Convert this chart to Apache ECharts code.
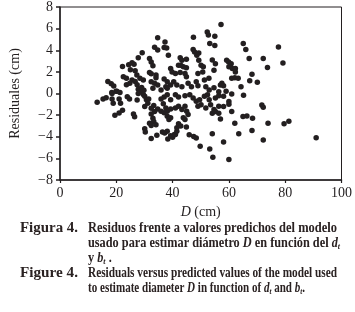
<!DOCTYPE html>
<html><head><meta charset="utf-8">
<script src="https://cdn.jsdelivr.net/npm/echarts@6/dist/echarts.min.js"></script>
<style>html,body{margin:0;padding:0;background:#fff}#c{width:355px;height:312px}</style>
</head><body><div id="c"></div>
<script>
// ---- data ----
const xTicks = [0, 20, 40, 60, 80, 100];
const yTicks = [-8, -6, -4, -2, 0, 2, 4, 6, 8];
const xAxisTitle = 'D (cm)';
const yAxisTitle = 'Residuales (cm)';
const predictedD = [
 13.2,15.3,16.4,17.0,18.2,19.1,18.5,19.9,18.5,21.0,18.9,21.5,19.5,21.0,22.2,22.2,22.5,23.6,20.2,21.3,18.4,
 24.4,25.6,26.3,27.8,29.2,25.0,26.7,27.3,25.6,26.7,28.4,29.6,23.6,24.8,27.4,27.8,29.0,29.8,28.4,29.6,27.4,23.9,24.7,27.8,30.1,30.7,31.5,26.1,26.5,
 30.1,31.2,33.3,34.7,32.4,33.6,32.4,33.0,33.3,34.1,32.4,31.8,35.9,37.0,38.1,38.7,39.3,36.7,37.6,38.1,39.3,35.9,37.0,38.1,39.3,
 30.1,30.3,32.4,34.4,36.4,37.2,38.1,38.3,39.3,40.0,40.6,41.0,41.5,41.5,42.1,42.9,44.9,
 34.7,37.3,33.6,34.7,37.0,37.9,38.5,31.8,32.4,33.0,31.8,32.4,34.1,34.1,39.3,39.8,37.0,38.1,39.3,32.4,33.6,34.7,33.0,35.9,37.6,38.1,
 42.7,43.3,44.9,42.1,42.9,43.8,44.9,47.4,47.3,47.8,49.3,48.6,49.3,50.1,50.9,
 41.0,42.7,44.4,44.9,49.0,50.7,52.9,51.3,40.4,41.5,43.3,45.5,46.7,48.4,49.0,51.8,53.0,54.7,56.4,57.0,
 41.0,42.1,44.4,46.1,47.3,48.4,49.6,51.3,52.4,53.0,55.2,56.4,41.0,42.1,43.3,44.4,45.0,45.5,49.0,50.1,51.8,53.5,54.7,56.4,43.8,44.4,57.0,54.1,55.2,56.4,
 45.9,47.5,48.4,49.8,53.2,54.1,58.1,54.3,60.0,63.5,68.2,72.2,73.9,79.6,81.3,91.0,61.0,62.1,65.0,66.4,68.4,
 57.2,52.3,52.7,55.0,53.2,55.0,54.1,55.2,54.7,59.2,59.9,60.8,60.0,61.2,62.3,62.3,
 65.1,66.0,77.6,67.2,72.2,79.2,73.7,68.2,61.0,62.1,63.3,67.4,70.1,57.5,58.1,64.3,59.0,61.0,58.1,65.2,60.0,60.0,58.1,71.7,72.2
];
const residuals = [
 -0.8,-0.5,-0.4,1.1,0.9,0.7,0.0,0.2,-0.5,-0.5,-0.9,-0.9,-2.0,-1.8,-1.55,2.5,1.55,1.4,0.2,0.1,0.1,
 2.65,2.85,2.7,3.3,3.77,2.2,2.1,1.7,1.25,1.1,1.4,1.25,0.8,0.95,0.8,0.4,0.55,0.3,0.17,-0.1,-0.6,-0.3,-0.5,0.0,-0.25,-0.57,-0.5,-1.9,-2.15,
 -1.2,-0.9,-1.12,-1.43,-1.36,-1.67,-1.9,-2.3,-2.6,-2.9,-2.96,-2.74,-1.64,-1.79,-2.1,-2.41,-2.25,-0.94,-1.33,-1.64,-1.43,-0.5,-0.32,-0.11,-0.57,
 -3.26,-3.55,-4.16,-3.85,-3.55,-3.65,-3.5,-4.2,-3.9,-4.05,-3.8,-3.8,-3.5,-3.17,-2.8,-3.0,-3.1,
 5.15,4.76,4.28,4.03,4.25,4.21,3.54,3.24,2.92,2.56,1.95,1.82,1.7,1.45,2.32,2.0,1.33,1.09,0.78,1.09,0.94,0.78,0.48,0.32,0.63,0.48,
 3.3,3.08,3.17,2.62,2.62,2.47,2.37,5.2,4.06,3.84,3.75,3.54,3.08,2.62,2.47,
 1.86,1.95,1.86,1.55,1.86,2.0,1.4,1.24,1.09,0.78,0.63,0.94,0.63,1.09,0.72,0.63,0.32,0.53,0.17,0.78,
 -0.11,-0.32,-0.2,-0.11,-0.41,-0.72,-0.57,-0.26,-0.11,-0.57,-0.41,-0.2,-1.33,-1.18,-1.49,-1.18,-1.64,-1.95,-1.18,-1.03,-1.33,-1.03,-1.49,-1.18,-2.25,-2.41,-2.35,-1.82,-1.67,-1.82,
 -3.82,-3.97,-4.12,-4.89,-5.13,-3.72,-4.49,-5.9,-6.1,-3.72,-3.42,-4.3,-2.74,-2.8,-2.56,-4.09,-1.67,-2.74,-2.13,-2.07,-2.28,
 6.39,5.68,5.4,5.29,4.62,4.43,3.1,2.75,2.16,3.08,2.92,2.74,2.47,2.31,2.31,2.0,
 4.62,4.06,4.3,3.24,3.24,2.83,2.41,1.77,1.4,1.45,1.4,1.18,1.03,0.94,0.72,0.63,0.2,-0.05,-0.26,-0.17,-0.75,-0.99,-1.21,-1.06,-1.27
];
const captionLines = [
 {label: 'Figura 4.', text: 'Residuos frente a valores predichos del modelo', width: 249},
 {label: '', text: 'usado para estimar diámetro {i|D} en función del {i|d}{sub|t}', width: 252},
 {label: '', text: 'y {i|b}{sub|t} .', width: 0},
 {label: 'Figure 4.', text: 'Residuals versus predicted values of the model used', width: 249},
 {label: '', text: 'to estimate diameter {i|D} in function of {i|d}{sub|t} and {i|b}{sub|t}.', width: 217}
];

// ---- chart ----
const INK = '#231f20';
const CAP = '#2a2222';
const SERIF = '"Liberation Serif", "DejaVu Serif", serif';
const points = predictedD.map((x, i) => [x, residuals[i]]);

const CAP_SIZE = 14, SUB_SIZE = 9;
const capFont = 'bold ' + CAP_SIZE + 'px ' + SERIF;
const cv = document.createElement('canvas').getContext('2d');
function measureRich(t) {
  let w = 0;
  const re = /\{(\w+)\|([^}]*)\}|([^{]+)/g;
  let m;
  while ((m = re.exec(t))) {
    if (m[3] !== undefined) { cv.font = capFont; w += cv.measureText(m[3]).width; }
    else if (m[1] === 'sub') { cv.font = 'italic bold ' + SUB_SIZE + 'px ' + SERIF; w += cv.measureText(m[2]).width; }
    else { cv.font = 'italic ' + capFont; w += cv.measureText(m[2]).width; }
  }
  return w;
}
const rich = {
  i: {fontFamily: SERIF, fontSize: CAP_SIZE, fontWeight: 'bold', fontStyle: 'italic', fill: CAP},
  sub: {fontFamily: SERIF, fontSize: SUB_SIZE, fontWeight: 'bold', fontStyle: 'italic', fill: CAP, padding: [8, 0, 0, 0]}
};
const lineY = [228, 243, 258, 273, 288];
const graphics = [];
let lastScale = 0.8;
captionLines.forEach((ln, k) => {
  const s = ln.width ? ln.width / measureRich(ln.text) : lastScale;
  lastScale = s;
  if (ln.label) {
    cv.font = capFont;
    const ls = 58 / cv.measureText(ln.label).width;
    graphics.push({type: 'text', x: 20, y: lineY[k], scaleX: ls,
      style: {text: ln.label, font: capFont, fill: CAP, verticalAlign: 'middle'}});
  }
  graphics.push({type: 'text', x: 88, y: lineY[k], scaleX: s,
    style: {text: ln.text, font: capFont, fill: CAP, verticalAlign: 'middle', rich: rich}});
});

const chart = echarts.init(document.getElementById('c'), null, {renderer: 'canvas'});
chart.setOption({
  animation: false,
  backgroundColor: '#fff',
  grid: {left: 52, right: 11, top: 6, bottom: 132, show: true, borderColor: INK, borderWidth: 1, backgroundColor: 'transparent'},
  xAxis: {
    type: 'value', min: xTicks[0], max: xTicks[xTicks.length - 1], interval: xTicks[1] - xTicks[0],
    name: '{i|D} (cm)', nameLocation: 'middle', nameGap: 25,
    nameTextStyle: {fontFamily: SERIF, fontSize: 14, color: INK, rich: {i: {fontFamily: SERIF, fontSize: 14, fontStyle: 'italic', color: INK}}},
    axisLine: {show: true, onZero: false, lineStyle: {color: INK, width: 1.5}},
    axisTick: {show: true, inside: false, length: 3, lineStyle: {color: INK, width: 1.2}},
    axisLabel: {fontFamily: SERIF, fontSize: 14, color: INK, margin: 6},
    splitLine: {show: false}
  },
  yAxis: {
    type: 'value', min: yTicks[0], max: yTicks[yTicks.length - 1], interval: yTicks[1] - yTicks[0],
    name: yAxisTitle, nameLocation: 'middle', nameGap: 38, nameRotate: 90,
    nameTextStyle: {fontFamily: SERIF, fontSize: 14, color: INK},
    axisLine: {show: true, onZero: false, lineStyle: {color: INK, width: 1.5}},
    axisTick: {show: true, inside: false, length: 4, lineStyle: {color: INK, width: 1.5}},
    axisLabel: {fontFamily: SERIF, fontSize: 14, color: INK, margin: 7,
      formatter: v => (v < 0 ? '\u2212' + Math.abs(v) : String(v))},
    splitLine: {show: false}
  },
  series: [{
    type: 'scatter', data: points, symbol: 'circle', symbolSize: 5.5,
    itemStyle: {color: INK, opacity: 1}, emphasis: {disabled: true}
  }],
  graphic: graphics
});
</script></body></html>
